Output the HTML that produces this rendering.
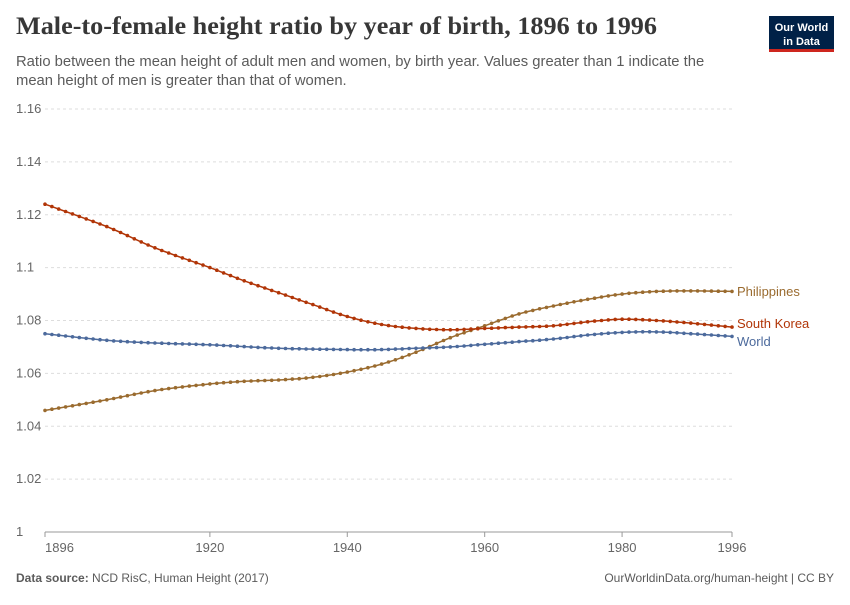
<!DOCTYPE html>
<html><head><meta charset="utf-8"><style>
body{margin:0;background:#fff;width:850px;height:600px;overflow:hidden;font-family:"Liberation Sans",sans-serif}
</style></head><body>
<svg id="s" width="850" height="600" xmlns="http://www.w3.org/2000/svg">
<text x="16" y="34" font-family="Liberation Serif,serif" font-size="25" font-weight="bold" fill="#373737" textLength="641" lengthAdjust="spacingAndGlyphs">Male-to-female height ratio by year of birth, 1896 to 1996</text>
<text x="16" y="66" font-size="14.8" fill="#5b5b5b">Ratio between the mean height of adult men and women, by birth year. Values greater than 1 indicate the</text>
<text x="16" y="85" font-size="14.8" fill="#5b5b5b">mean height of men is greater than that of women.</text>
<rect x="769" y="16" width="65" height="36" fill="#002147"/>
<rect x="769" y="49" width="65" height="3" fill="#ce261e"/>
<text x="801.5" y="31" font-size="11" fill="#fff" text-anchor="middle" font-weight="bold">Our World</text>
<text x="801.5" y="45" font-size="11" fill="#fff" text-anchor="middle" font-weight="bold">in Data</text>
<g id="grid"></g>
<g id="series"></g>
<text x="16" y="582" font-size="12" fill="#5b5b5b"><tspan font-weight="bold">Data source:</tspan> NCD RisC, Human Height (2017)</text>
<text x="834" y="582" font-size="12" fill="#5b5b5b" text-anchor="end">OurWorldinData.org/human-height | CC BY</text>
</svg>
<script>
var NS="http://www.w3.org/2000/svg";
function el(t,a,p,txt){var e=document.createElementNS(NS,t);for(var k in a)e.setAttribute(k,a[k]);if(txt)e.textContent=txt;p.appendChild(e);return e;}
function X(y){return 45+(y-1896)*6.87;}
function Y(v){return 532-(v-1)*2643.75;}
var g=document.getElementById("grid");
var ticks=[1,1.02,1.04,1.06,1.08,1.1,1.12,1.14,1.16];
ticks.forEach(function(t){var y=Y(t);
 if(t>1)el("line",{x1:45,x2:732,y1:y,y2:y,stroke:"#ddd","stroke-dasharray":"3,3"},g);
 el("text",{x:16,y:y+4,"font-size":13,fill:"#666"},g,String(t));});
el("line",{x1:45,x2:732,y1:532,y2:532,stroke:"#999"},g);
[1896,1920,1940,1960,1980,1996].forEach(function(yr){var x=X(yr);
 el("line",{x1:x,x2:x,y1:532,y2:537,stroke:"#999"},g);
 el("text",{x:yr==1896?45:x,y:552,"font-size":13,fill:"#666","text-anchor":yr==1896?"start":"middle"},g,String(yr));});
var data=[
 {n:"Philippines",c:"#9a6b2f",k:[[1896,1.046],[1905,1.050],[1912,1.0535],[1920,1.056],[1925,1.057],[1930,1.0575],[1935,1.0585],[1940,1.0605],[1945,1.0635],[1950,1.068],[1955,1.0735],[1960,1.078],[1965,1.0825],[1970,1.0855],[1975,1.088],[1980,1.090],[1985,1.091],[1990,1.0912],[1996,1.091]],ly:296},
 {n:"South Korea",c:"#b13507",k:[[1896,1.124],[1905,1.1155],[1912,1.1075],[1920,1.100],[1925,1.095],[1930,1.0905],[1935,1.086],[1940,1.0815],[1945,1.0785],[1950,1.077],[1955,1.0765],[1960,1.077],[1965,1.0775],[1970,1.078],[1975,1.0795],[1980,1.0805],[1985,1.080],[1990,1.079],[1996,1.0775]],ly:328},
 {n:"World",c:"#4c6a9c",k:[[1896,1.075],[1905,1.0725],[1912,1.0715],[1920,1.0708],[1930,1.0695],[1940,1.069],[1945,1.069],[1950,1.0695],[1955,1.070],[1960,1.071],[1965,1.072],[1970,1.073],[1975,1.0745],[1980,1.0755],[1985,1.0757],[1990,1.075],[1996,1.074]],ly:346}
];
var s=document.getElementById("series");
function interp(k,yr){for(var i=0;i<k.length-1;i++){if(yr>=k[i][0]&&yr<=k[i+1][0]){
 var t=(yr-k[i][0])/(k[i+1][0]-k[i][0]);
 var p0=k[Math.max(0,i-1)],p1=k[i],p2=k[i+1],p3=k[Math.min(k.length-1,i+2)];
 var m1=(p2[1]-p0[1])/(p2[0]-p0[0])*(p2[0]-p1[0]),m2=(p3[1]-p1[1])/(p3[0]-p1[0])*(p2[0]-p1[0]);
 var t2=t*t,t3=t2*t;return (2*t3-3*t2+1)*p1[1]+(t3-2*t2+t)*m1+(-2*t3+3*t2)*p2[1]+(t3-t2)*m2;}}return k[k.length-1][1];}
data.forEach(function(d){var pts=[];for(var yr=1896;yr<=1996;yr++){pts.push([X(yr),Y(interp(d.k,yr))]);}
 el("polyline",{points:pts.map(function(p){return p[0].toFixed(1)+","+p[1].toFixed(1)}).join(" "),fill:"none",stroke:d.c,"stroke-width":1.5},s);
 pts.forEach(function(p){el("circle",{cx:p[0].toFixed(1),cy:p[1].toFixed(1),r:1.8,fill:d.c},s);});
 el("text",{x:737,y:d.ly,"font-size":13,fill:d.c},s,d.n);});
</script>
</body></html>
